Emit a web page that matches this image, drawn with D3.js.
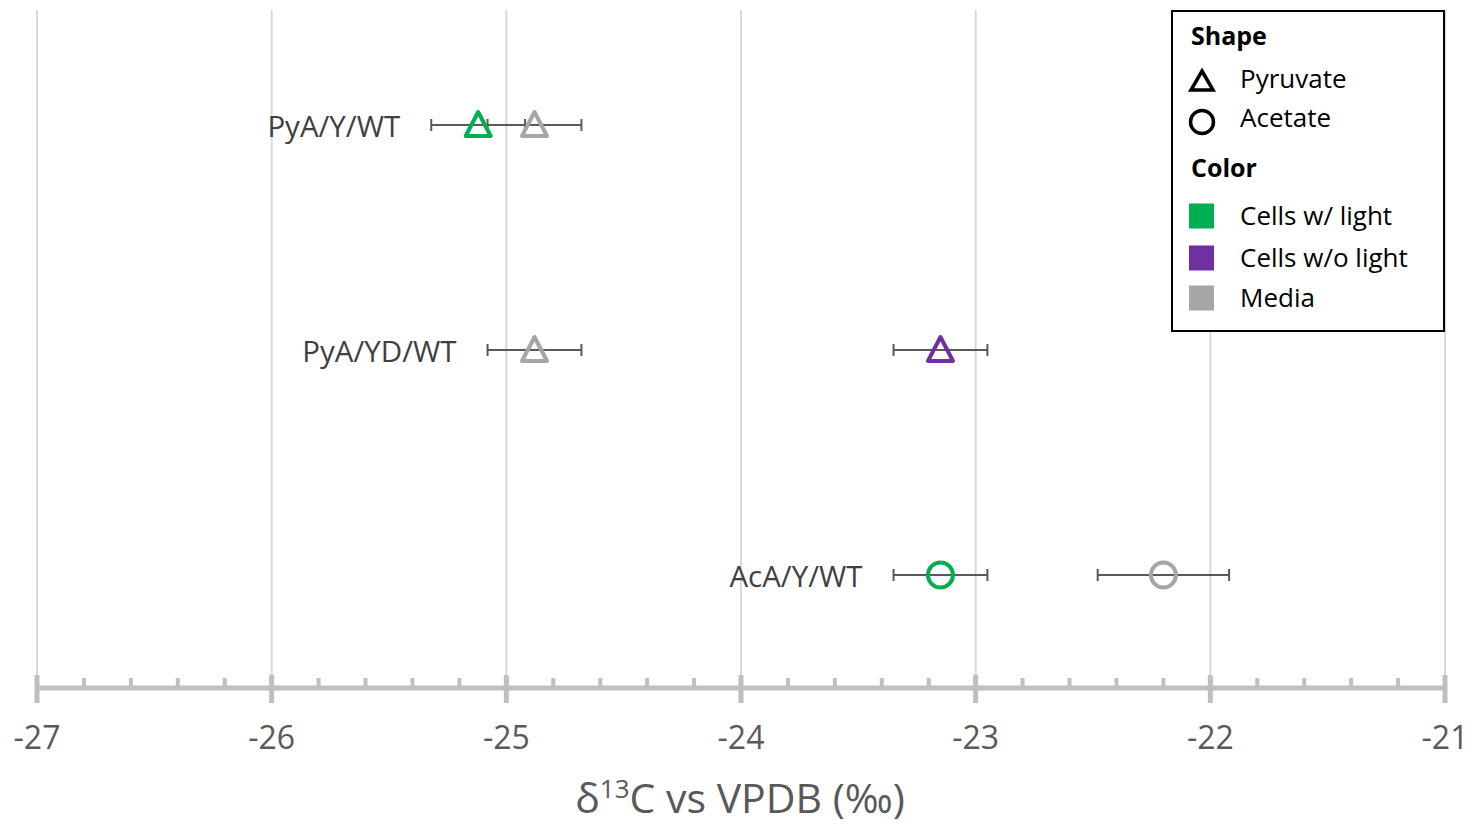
<!DOCTYPE html>
<html>
<head>
<meta charset="utf-8">
<script src="https://cdn.jsdelivr.net/npm/d3@7/dist/d3.min.js"></script>
<style>
  body { margin: 0; background: #fff; }
  text { font-family: "Open Sans", "Noto Sans", sans-serif; }
</style>
</head>
<body>
<div id="vis"></div>
<script>
// data
var categories = ["PyA/Y/WT", "PyA/YD/WT", "AcA/Y/WT"];
var shapeNames = ["Pyruvate", "Acetate"];
var conditionNames = ["Cells w/ light", "Cells w/o light", "Media"];
var conditionColors = ["#00b050", "#7030a0", "#a6a6a6"];

var pointCategory  = ["PyA/Y/WT", "PyA/Y/WT", "PyA/YD/WT", "PyA/YD/WT", "AcA/Y/WT", "AcA/Y/WT"];
var pointShape     = ["Pyruvate", "Pyruvate", "Pyruvate", "Pyruvate", "Acetate", "Acetate"];
var pointCondition = ["Cells w/ light", "Media", "Media", "Cells w/o light", "Cells w/ light", "Media"];
var pointValue     = [-25.12, -24.88, -24.88, -23.15, -23.15, -22.20];
var pointError     = [0.2, 0.2, 0.2, 0.2, 0.2, 0.28];

var xDomain = [-27, -21];
var xTicks = [-27, -26, -25, -24, -23, -22, -21];

var width = 1474, height = 827;

var svg = d3.select("#vis").append("svg")
    .attr("width", width)
    .attr("height", height);

var x = d3.scaleLinear().domain(xDomain).range([37, 1445]);
var y = d3.scaleBand().domain(categories).range([12.5, 687.5]);
var color = d3.scaleOrdinal().domain(conditionNames).range(conditionColors);

var points = pointValue.map(function(v, i) {
  return { cat: pointCategory[i], shape: pointShape[i], cond: pointCondition[i], value: v, err: pointError[i] };
});

var axisY = 688;

// vertical gridlines
svg.append("g").selectAll("line")
    .data(xTicks)
    .enter().append("line")
    .attr("x1", function(d) { return x(d); })
    .attr("x2", function(d) { return x(d); })
    .attr("y1", 10)
    .attr("y2", axisY)
    .attr("stroke", "#d9d9d9")
    .attr("stroke-width", 2);

// x axis: thick grey line, major + minor ticks
var gx = svg.append("g").attr("transform", "translate(0," + axisY + ")");
gx.append("line")
    .attr("x1", x(xDomain[0]) - 2)
    .attr("x2", x(xDomain[1]) + 2)
    .attr("stroke", "#bfbfbf")
    .attr("stroke-width", 5);
gx.selectAll(".minor")
    .data(d3.range(0, 31).map(function(i) { return xDomain[0] + i * 0.2; }))
    .enter().append("line")
    .attr("x1", function(d) { return x(d); })
    .attr("x2", function(d) { return x(d); })
    .attr("y1", -10)
    .attr("y2", 2)
    .attr("stroke", "#bfbfbf")
    .attr("stroke-width", 4);
gx.selectAll(".major")
    .data(xTicks)
    .enter().append("line")
    .attr("x1", function(d) { return x(d); })
    .attr("x2", function(d) { return x(d); })
    .attr("y1", -13)
    .attr("y2", 15)
    .attr("stroke", "#bfbfbf")
    .attr("stroke-width", 5);
gx.selectAll(".ticklabel")
    .data(xTicks)
    .enter().append("text")
    .attr("x", function(d) { return x(d); })
    .attr("y", 50)
    .attr("dy", "0.35em")
    .attr("text-anchor", "middle")
    .attr("font-size", "32px")
    .attr("fill", "#595959")
    .text(function(d) { return d3.format("")(d).replace("−", "-"); });

// axis title
var title = svg.append("text")
    .attr("x", 740)
    .attr("y", 813)
    .attr("text-anchor", "middle")
    .attr("font-size", "41px")
    .attr("fill", "#595959");
title.append("tspan").text("δ");
title.append("tspan").attr("font-size", "26px").attr("dy", -15).text("13");
title.append("tspan").attr("dy", 15).text("C vs VPDB (‰)");

// error bars
var eb = svg.append("g").selectAll("g")
    .data(points)
    .enter().append("g")
    .attr("transform", function(d) { return "translate(0," + (y(d.cat) + y.bandwidth() / 2) + ")"; })
    .attr("stroke", "#595959")
    .attr("stroke-width", 2);
eb.append("line")
    .attr("x1", function(d) { return x(d.value - d.err); })
    .attr("x2", function(d) { return x(d.value + d.err); });
eb.append("line")
    .attr("x1", function(d) { return x(d.value - d.err); })
    .attr("x2", function(d) { return x(d.value - d.err); })
    .attr("y1", -6).attr("y2", 6);
eb.append("line")
    .attr("x1", function(d) { return x(d.value + d.err); })
    .attr("x2", function(d) { return x(d.value + d.err); })
    .attr("y1", -6).attr("y2", 6);

// markers
function markerPath(shape) {
  if (shape == "Pyruvate") return "M0,-13 L12.5,11 L-12.5,11 Z";
  return d3.arc()({ innerRadius: 0, outerRadius: 12.5, startAngle: 0, endAngle: 2 * Math.PI });
}
svg.append("g").selectAll("path")
    .data(points)
    .enter().append("path")
    .attr("transform", function(d) { return "translate(" + x(d.value) + "," + (y(d.cat) + y.bandwidth() / 2) + ")"; })
    .attr("d", function(d) { return markerPath(d.shape); })
    .attr("fill", "none")
    .attr("stroke", function(d) { return color(d.cond); })
    .attr("stroke-width", 4)
    .attr("stroke-linejoin", "round");

// category labels, to the left of each row's leftmost point
svg.append("g").selectAll("text")
    .data(categories)
    .enter().append("text")
    .attr("x", function(c) {
      var m = d3.min(points.filter(function(p) { return p.cat == c; }), function(p) { return p.value; });
      return x(m) - 78;
    })
    .attr("y", function(c) { return y(c) + y.bandwidth() / 2 + 2; })
    .attr("dy", "0.35em")
    .attr("text-anchor", "end")
    .attr("font-size", "29.5px")
    .attr("fill", "#404040")
    .text(function(c) { return c; });

// legend
var legend = svg.append("g").attr("transform", "translate(1172,11)");
legend.append("rect")
    .attr("width", 272)
    .attr("height", 320)
    .attr("fill", "#fff")
    .attr("stroke", "#000")
    .attr("stroke-width", 2);
legend.append("text")
    .attr("x", 19).attr("y", 25).attr("dy", "0.35em")
    .attr("font-size", "25px").attr("font-weight", "bold")
    .text("Shape");
var shapeRows = legend.selectAll(".shape")
    .data(shapeNames)
    .enter().append("g")
    .attr("transform", function(d, i) { return "translate(0," + (68 + i * 39) + ")"; });
shapeRows.append("path")
    .attr("transform", function(d, i) { return "translate(30," + (i ? 4 : 2) + ")"; })
    .attr("d", function(d) {
      if (d == "Pyruvate") return "M0,-10 L11,9 L-11,9 Z";
      return d3.arc()({ innerRadius: 0, outerRadius: 11.5, startAngle: 0, endAngle: 2 * Math.PI });
    })
    .attr("fill", "none")
    .attr("stroke", "#000")
    .attr("stroke-width", 3.5);
shapeRows.append("text")
    .attr("x", 68).attr("dy", "0.35em")
    .attr("font-size", "26px")
    .text(function(d) { return d; });
legend.append("text")
    .attr("x", 19).attr("y", 157).attr("dy", "0.35em")
    .attr("font-size", "25px").attr("font-weight", "bold")
    .text("Color");
var colorRows = legend.selectAll(".cond")
    .data(conditionNames)
    .enter().append("g")
    .attr("transform", function(d, i) { return "translate(0," + [205, 247, 287][i] + ")"; });
colorRows.append("rect")
    .attr("x", 17).attr("y", -12.5)
    .attr("width", 25).attr("height", 25)
    .attr("fill", function(d) { return color(d); });
colorRows.append("text")
    .attr("x", 68).attr("dy", "0.35em")
    .attr("font-size", "26px")
    .text(function(d) { return d; });
</script>
</body>
</html>
